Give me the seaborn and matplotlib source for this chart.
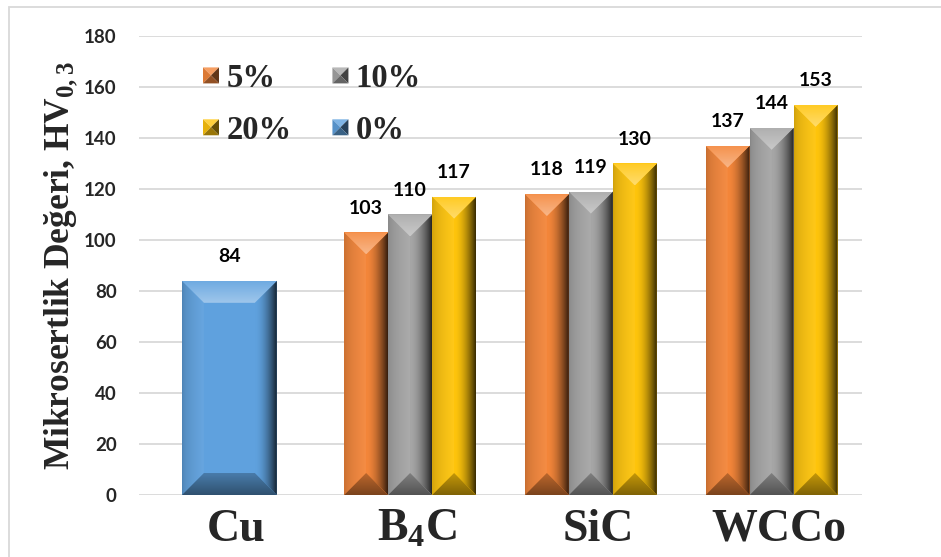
import numpy as np
import pandas as pd
import matplotlib
matplotlib.use("Agg")
import matplotlib.pyplot as plt
import matplotlib.transforms as mtransforms
import seaborn as sns
from matplotlib.patches import Polygon, Patch, Rectangle
from matplotlib.colors import to_rgb
from matplotlib.legend_handler import HandlerBase

# ---- data -------------------------------------------------------------
materials = ["Cu", "B4C", "SiC", "WCCo"]
material_labels = ["Cu", r"B$_4$C", "SiC", "WCCo"]
composites = ["B4C", "SiC", "WCCo"]
contents = ["5%", "10%", "20%"]
hv_5 = [103, 118, 137]
hv_10 = [110, 119, 144]
hv_20 = [117, 130, 153]
cu_label = "0%"
hv_cu = [84]
y_ticks = [0, 20, 40, 60, 80, 100, 120, 140, 160, 180]

colors = {"5%": "#F4863A", "10%": "#A6A6A6", "20%": "#FFC50C", "0%": "#5FA1DE"}

# ---- style ------------------------------------------------------------
sns.set_theme(style="white")
plt.rcParams.update({
    "font.family": ["Liberation Serif", "DejaVu Serif"],
    "mathtext.fontset": "custom",
    "mathtext.rm": "Liberation Serif:bold",
    "mathtext.it": "Liberation Serif:bold",
    "mathtext.bf": "Liberation Serif:bold",
})

W, H = 941, 557
fig = plt.figure(figsize=(W / 100, H / 100), dpi=100)
ax = fig.add_axes([139 / W, 1 - 495 / H, 723 / W, 459 / H])

# ---- bars -------------------------------------------------------------
rows = []
for c, vals in zip(contents, [hv_5, hv_10, hv_20]):
    for m, v in zip(composites, vals):
        rows.append({"material": m, "content": c, "hv": v})
df = pd.DataFrame(rows)
cu_df = pd.DataFrame({"material": ["Cu"], "content": [cu_label], "hv": hv_cu})

sns.barplot(data=df, x="material", y="hv", hue="content", order=materials,
            hue_order=contents, palette=[colors[c] for c in contents],
            width=0.73, gap=0, saturation=1, errorbar=None, legend=False,
            linewidth=0, ax=ax)
sns.barplot(data=cu_df, x="material", y="hv", order=materials,
            color=colors[cu_label], width=0.525, saturation=1,
            errorbar=None, linewidth=0, ax=ax)

ax.set_xlim(-0.5, 3.5)
ax.set_ylim(0, 180)


def shade(rgb, f):
    rgb = np.asarray(rgb, dtype=float)
    return rgb + (1 - rgb) * f if f >= 0 else rgb * (1 + f)


def gradient_fill(poly_xy, extent, c0, c1, horizontal, gamma=1.0, z=3):
    poly = Polygon(poly_xy, closed=True, transform=ax.transData)
    t = np.linspace(0, 1, 64)[:, None] ** gamma
    cols = (1 - t) * np.asarray(c0) + t * np.asarray(c1)
    img = cols[None, :, :] if horizontal else cols[:, None, :]
    im = ax.imshow(img, extent=extent, origin="lower", aspect="auto",
                   interpolation="bilinear", zorder=z)
    im.set_clip_path(poly)


# bevel size: 22 px in both directions
inv = ax.transData.inverted()
p0 = inv.transform((0, 0))
p1 = inv.transform((22, 22))
bev_x, bev_y = p1[0] - p0[0], p1[1] - p0[1]

bars = [p for p in ax.patches if isinstance(p, Rectangle) and p.get_height() > 0]
for bar in bars:
    base = np.array(to_rgb(bar.get_facecolor()))
    bar.set_zorder(2)
    x0, y0 = bar.get_x(), bar.get_y()
    x1, y1 = x0 + bar.get_width(), y0 + bar.get_height()
    bx = min(bev_x, bar.get_width() / 2)
    by = bev_y
    # left bevel
    gradient_fill([(x0, y0), (x0, y1), (x0 + bx, y1 - by), (x0 + bx, y0 + by)],
                  [x0, x0 + bx, y0, y1], shade(base, -0.2), shade(base, 0.05), True,
                  gamma=0.5)
    # right bevel
    gradient_fill([(x1, y0), (x1, y1), (x1 - bx, y1 - by), (x1 - bx, y0 + by)],
                  [x1 - bx, x1, y0, y1], shade(base, 0.0), shade(base, -0.78), True,
                  gamma=1.8)
    # top bevel
    gradient_fill([(x0, y1), (x1, y1), (x1 - bx, y1 - by), (x0 + bx, y1 - by)],
                  [x0, x1, y1 - by, y1], shade(base, 0.4), shade(base, 0.1), False)
    # bottom bevel
    gradient_fill([(x0, y0), (x1, y0), (x1 - bx, y0 + by), (x0 + bx, y0 + by)],
                  [x0, x1, y0, y0 + by], shade(base, -0.5), shade(base, -0.22), False)
    # value label
    ax.annotate(f"{bar.get_height():.0f}", (x0 + bar.get_width() / 2, y1),
                xytext=(0, 13.5), textcoords="offset points", ha="center",
                va="baseline", fontsize=14, fontweight="bold",
                fontfamily=["Lato", "DejaVu Sans"], color="black", zorder=5)

ax.set_xlim(-0.5, 3.5)
ax.set_ylim(0, 180)

# ---- axes -------------------------------------------------------------
for s in ax.spines.values():
    s.set_visible(False)
ax.set_axisbelow(True)
ax.yaxis.grid(True, color="#D9D9D9", linewidth=1.3)
ax.xaxis.grid(False)
ax.set_yticks(y_ticks)
ax.set_yticklabels([str(v) for v in y_ticks], fontsize=13.5, fontweight="bold",
                   fontfamily=["Lato", "DejaVu Sans"])
ax.set_xticks(range(len(materials)))
ax.set_xticklabels(material_labels, fontsize=33, fontweight="bold",
                   fontfamily=["Liberation Serif", "DejaVu Serif"])
ax.tick_params(axis="y", length=0, pad=16)
ax.tick_params(axis="x", length=0, pad=10)
shift = mtransforms.ScaledTranslation(7 / 100, 0, fig.dpi_scale_trans)
for lab in ax.get_xticklabels():
    lab.set_transform(lab.get_transform() + shift)
ax.set_xlabel("")
ax.set_ylabel("Mikrosertlik Değeri, HV$_{0,3}$", fontsize=25.5, fontweight="bold",
              fontfamily=["Liberation Serif", "DejaVu Serif"])
ax.yaxis.set_label_coords(-0.081, 0.5)


# ---- legend with bevelled squares ---------------------------------------
class BevelSquareHandler(HandlerBase):
    def create_artists(self, legend, orig_handle, xdescent, ydescent,
                       width, height, fontsize, trans):
        base = np.array(to_rgb(orig_handle.get_facecolor()))
        s = min(width, height)
        xa = -xdescent + (width - s) / 2
        ya = -ydescent + (height - s) / 2
        xb, yb = xa + s, ya + s
        cx, cy = xa + s / 2, ya + s / 2
        tris = [
            ([(xa, yb), (xb, yb), (cx, cy)], shade(base, 0.2)),
            ([(xa, ya), (xa, yb), (cx, cy)], shade(base, -0.1)),
            ([(xb, ya), (xb, yb), (cx, cy)], shade(base, -0.6)),
            ([(xa, ya), (xb, ya), (cx, cy)], shade(base, -0.4)),
        ]
        return [Polygon(xy, closed=True, facecolor=c, edgecolor="none",
                        transform=trans) for xy, c in tris]


legend_order = ["5%", "20%", "10%", "0%"]
handles = [Patch(facecolor=colors[c], label=c) for c in legend_order]
ax.legend(handles=handles, ncol=2, frameon=False, loc="upper left",
          bbox_to_anchor=(203 / W, 1 - 63 / H), bbox_transform=fig.transFigure,
          prop={"family": "Liberation Serif", "weight": "bold", "size": 23.5},
          handler_map={Patch: BevelSquareHandler()},
          handlelength=0.49, handleheight=0.49, handletextpad=0.22,
          columnspacing=1.26, labelspacing=0.64, borderaxespad=0, borderpad=0)

# outer chart border
fig.add_artist(Rectangle((9 / W, -0.1), 1.2, 1.1 - 7 / H, transform=fig.transFigure,
                         fill=False, edgecolor="#D9D9D9", linewidth=1.3))

fig.savefig("out.png", dpi=100)
